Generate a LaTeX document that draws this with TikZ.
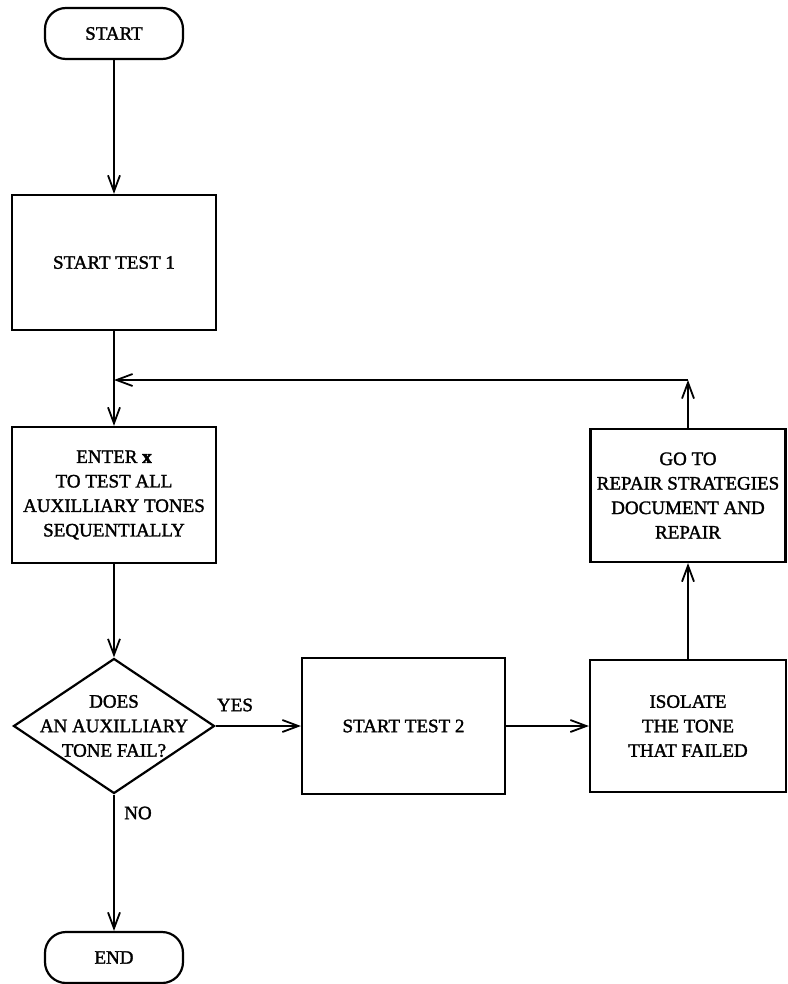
\documentclass[tikz,border=0pt]{standalone}
\usepackage{fontspec}
\setmainfont{Liberation Serif}
\newfontfamily\heavy{Liberation Serif}[BoldFont={Liberation Serif},BoldFeatures={FakeBold=1.6}]
\usetikzlibrary{arrows.meta,shapes.geometric,calc}
\begin{document}
\begin{tikzpicture}[x=1pt,y=-1pt,
  txt/.style={font=\heavy\bfseries\fontsize{19}{24.5}\selectfont},
  box/.style={draw,line width=2.2pt,rectangle,inner sep=0pt,align=center,txt},
  term/.style={draw,line width=2.2pt,rounded corners=21pt,inner sep=0pt,txt},
  conn/.style={line width=1.8pt},
  arr/.style={conn,-{Straight Barb[length=16pt,width=12pt,line width=1.8pt]}}
]
\useasboundingbox (0,0) rectangle (787,984);

\node[term,minimum width=138pt,minimum height=51pt] (start) at (114,33.5) {START};
\node[box,minimum width=204pt,minimum height=135pt] (t1) at (114,262.5) {START TEST 1};
\node[box,minimum width=204pt,minimum height=136pt] (enter) at (114,495) {ENTER {\fontspec{Liberation Serif}[FakeBold=3]x}\\TO TEST ALL\\AUXILLIARY TONES\\SEQUENTIALLY};
\node[draw,diamond,line width=2.2pt,minimum width=201pt,minimum height=135pt,inner sep=0pt] (dec) at (114,726) {};
\node[txt,align=center] (dtext) at (dec.center) {DOES\\AN AUXILLIARY\\TONE FAIL?};
\node[box,minimum width=203pt,minimum height=136pt] (t2) at (403.5,726) {START TEST 2};
\node[box,minimum width=196pt,minimum height=132pt] (iso) at (688,726) {ISOLATE\\THE TONE\\THAT FAILED};
\node[box,minimum width=195pt,minimum height=133pt] (go) at (688,495.5) {GO TO\\REPAIR STRATEGIES\\DOCUMENT AND\\REPAIR};
\node[term,minimum width=138pt,minimum height=51pt] (end) at (114,957.5) {END};

\node[txt] (yes) at (235,705) {YES};
\node[txt] (no) at (138,813) {NO};

\coordinate (j) at (114,380);
\coordinate (corner) at (go.north |- j);

\draw[arr] (start.south) -- (t1.north);
\draw[arr] (t1.south) -- (enter.north);
\draw[arr] (enter.south) -- (dec.north);
\draw[arr] (dec.east) -- (t2.west);
\draw[arr] (t2.east) -- (iso.west);
\draw[arr] (iso.north) -- (go.south);
\draw[arr] (go.north) -- (corner);
\draw[arr] (corner) -- (j);
\draw[arr] (dec.south) -- (end.north);
\end{tikzpicture}
\end{document}
